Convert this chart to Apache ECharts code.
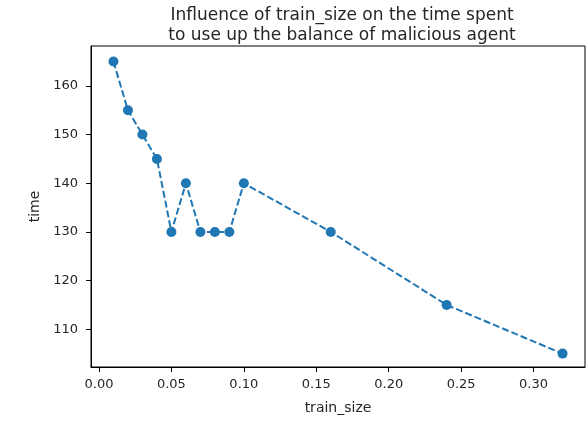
<!DOCTYPE html>
<html><head><meta charset="utf-8">
<script src="https://cdn.jsdelivr.net/npm/echarts@6/dist/echarts.min.js"></script>
<style>html,body{margin:0;padding:0;background:#fff}#c{width:586px;height:442px}</style>
</head><body><div id="c"></div>
<script>
const trainSize = [0.01,0.02,0.03,0.04,0.05,0.06,0.07,0.08,0.09,0.10,0.16,0.24,0.32];
const timeValues = [165,155,150,145,130,140,130,130,130,140,130,115,105];
const xTicks = [0,0.05,0.10,0.15,0.20,0.25,0.30];
const yTicks = [110,120,130,140,150,160];
const titleText = 'Influence of train_size on the time spent\nto use up the balance of malicious agent';

const font = 'DejaVu Sans';
const txt = '#262626';
const chart = echarts.init(document.getElementById('c'), null, {renderer:'canvas'});
chart.setOption({
  animation:false,
  title:{text:titleText,left:337,textAlign:'center',top:1,
    textStyle:{fontFamily:font,fontSize:17,fontWeight:'normal',color:txt,lineHeight:20}},
  grid:{left:91,right:1,top:46,bottom:75,show:true,borderColor:'#000',borderWidth:1,backgroundColor:'transparent'},
  xAxis:{type:'value',min:-0.0055,max:0.3355,
    name:'train_size',nameLocation:'middle',nameGap:34,
    nameTextStyle:{fontFamily:font,fontSize:14,color:txt},
    splitLine:{show:false},
    axisLine:{show:true,onZero:false,lineStyle:{color:'#000',width:1}},
    axisTick:{show:true,length:5,customValues:xTicks,lineStyle:{color:'#000'}},
    axisLabel:{customValues:xTicks,fontFamily:font,fontSize:13,color:txt,margin:11,
      formatter:v=>v.toFixed(2)}},
  yAxis:{type:'value',min:102.25,max:168.2,
    name:'time',nameLocation:'middle',nameGap:43,nameRotate:90,
    nameTextStyle:{fontFamily:font,fontSize:14,color:txt},
    splitLine:{show:false},
    axisLine:{show:true,onZero:false,lineStyle:{color:'#000',width:1}},
    axisTick:{show:true,length:5,customValues:yTicks,lineStyle:{color:'#000'}},
    axisLabel:{customValues:yTicks,fontFamily:font,fontSize:13,color:txt,margin:13}},
  series:[{type:'line',data:trainSize.map((x,i)=>[x,timeValues[i]]),
    symbol:'circle',symbolSize:10,
    itemStyle:{color:'#1f77b4'},
    lineStyle:{color:'#1f77b4',width:2,type:[7,3]}}]
});
</script></body></html>
